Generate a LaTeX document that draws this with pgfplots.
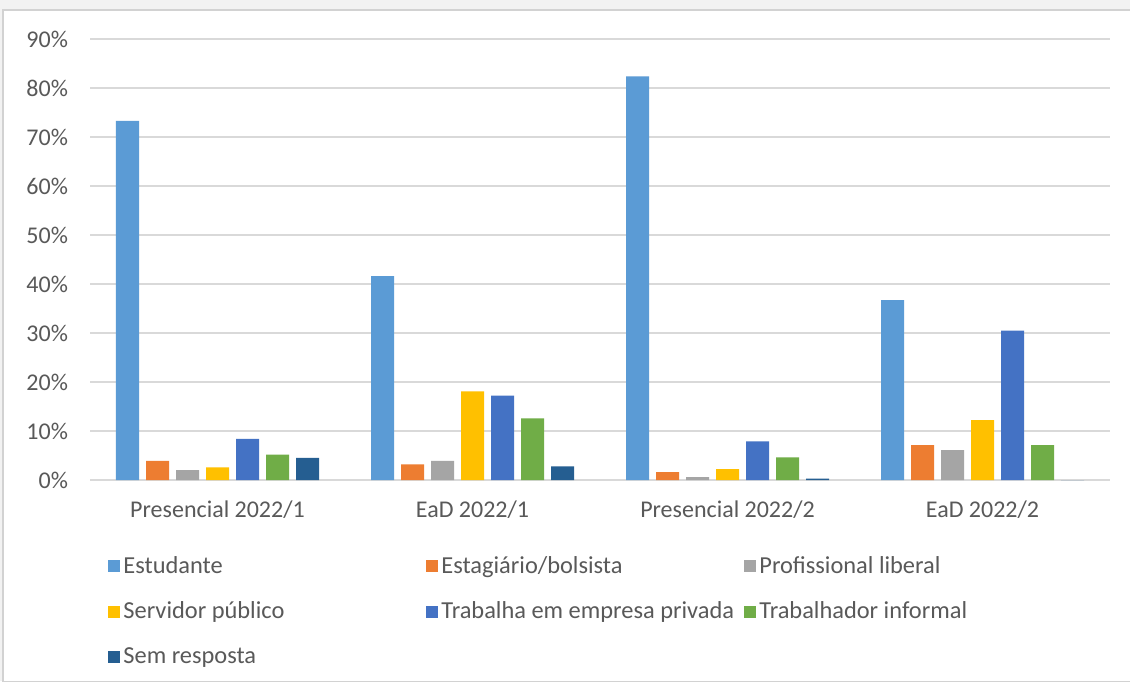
\documentclass[border=0pt]{standalone}
\usepackage{pgfplots}
\pgfplotsset{compat=1.18}
\usepackage{fontspec}
\setmainfont{Carlito}
\definecolor{cEst}{HTML}{5B9BD5}
\definecolor{cEsg}{HTML}{ED7D31}
\definecolor{cPro}{HTML}{A5A5A5}
\definecolor{cSer}{HTML}{FFC000}
\definecolor{cTra}{HTML}{4472C4}
\definecolor{cInf}{HTML}{70AD47}
\definecolor{cSem}{HTML}{255E91}
\definecolor{txt}{HTML}{595959}
\definecolor{cGrid}{HTML}{D9D9D9}
\newcommand\legbox[1]{\makebox[150pt][l]{#1}}
\begin{document}
\begin{tikzpicture}
  % frame of the chart (1px = 0.5pt, origin at the axis' lower left corner)
  \useasboundingbox (-45pt,-100.5pt) rectangle (520pt,240pt);
  \fill[gray!10] (-45pt,-100.5pt) rectangle (520pt,240pt);
  \filldraw[fill=white, draw=gray!35, line width=0.6pt] (-43.5pt,-101pt) rectangle (521pt,235pt);
  \begin{axis}[
    scale only axis,
    width=510pt, height=220.5pt,
    ybar=3.5pt, bar width=11.5pt,
    xmin=-0.5, xmax=3.5,
    ymin=0, ymax=90,
    xtick=data,
    xticklabels={Presencial 2022/1, EaD 2022/1, Presencial 2022/2, EaD 2022/2},
    ytick={0,10,...,90},
    yticklabel={\pgfmathprintnumber{\tick}\%},
    /pgf/number format/assume math mode=true,
    ymajorgrids,
    xmajorgrids=false,
    grid style={draw=cGrid, line width=0.75pt},
    axis line style={draw=none},
    major tick length=0pt,
    tick label style={text=txt, font=\fontsize{12}{14}\selectfont},
    xticklabel style={yshift=-7pt},
    yticklabel style={xshift=-7.5pt},
    legend columns=3,
    legend cell align=left,
    legend style={
      draw=none, fill=none,
      at={(axis description cs:0,0)}, anchor=north west,
      xshift=6pt, yshift=-34pt,
      font=\fontsize{12.2}{14}\selectfont, text=txt,
      nodes={inner xsep=1.5pt},
      /tikz/every even column/.append style={column sep=0pt},
      row sep=8.8pt,
    },
    legend image code/.code={\fill[#1] (0pt,-3pt) rectangle (6pt,3pt);},
  ]
  \addplot[fill=cEst, draw=none] coordinates {(0,73.3) (1,41.6) (2,82.4) (3,36.7)};
  \addplot[fill=cEsg, draw=none] coordinates {(0,3.9) (1,3.2) (2,1.6) (3,7.1)};
  \addplot[fill=cPro, draw=none] coordinates {(0,2.0) (1,3.9) (2,0.6) (3,6.1)};
  \addplot[fill=cSer, draw=none] coordinates {(0,2.6) (1,18.1) (2,2.2) (3,12.2)};
  \addplot[fill=cTra, draw=none] coordinates {(0,8.4) (1,17.2) (2,7.9) (3,30.5)};
  \addplot[fill=cInf, draw=none] coordinates {(0,5.2) (1,12.6) (2,4.6) (3,7.1)};
  \addplot[fill=cSem, draw=none] coordinates {(0,4.5) (1,2.8) (2,0.3) (3,0)};
  \legend{\legbox{Estudante}, \legbox{Estagiário/bolsista}, \legbox{Profissional liberal}, \legbox{Servidor público}, \legbox{Trabalha em empresa privada}, \legbox{Trabalhador informal}, \legbox{Sem resposta}}
  \end{axis}
\end{tikzpicture}
\end{document}
